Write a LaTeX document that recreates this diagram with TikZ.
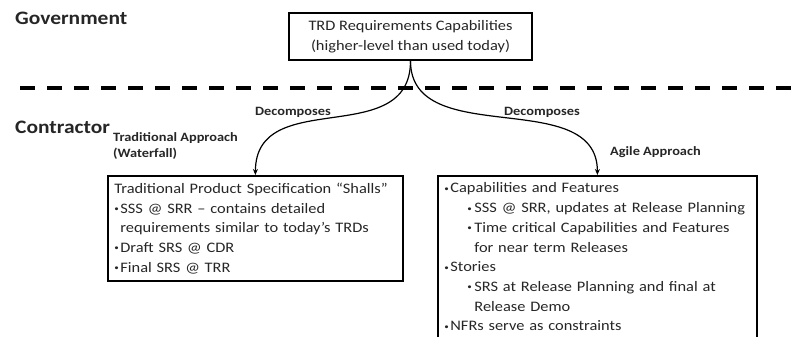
\documentclass[tikz,border=0pt]{standalone}
\usepackage{fontspec}
\setmainfont{Carlito}[FakeStretch=1.13]
\usetikzlibrary{arrows.meta}
\newcommand{\bdot}{\raisebox{1.6pt}{\fontsize{8}{8}\selectfont\textbullet}}
\newcommand{\bul}{\makebox[6pt][l]{\bdot}}
\newcommand{\subbul}{\hspace*{23pt}\makebox[7pt][l]{\bdot}}
\begin{document}
\begin{tikzpicture}[x=1pt,y=-1pt,
    head/.style={font=\fontsize{19}{23}\selectfont\bfseries, text=black!85, anchor=base west, inner sep=0pt},
    lbl/.style={font=\fontsize{12.7}{16}\selectfont\bfseries, text=black!85, inner sep=0pt},
    txt/.style={font=\fontsize{14.5}{19.7}\selectfont, text=black!85},
    box/.style={draw, line width=1.8pt, txt},
    conn/.style={line width=1.2pt, -{Stealth[length=6pt,width=5pt]}}]
  \clip (0,0) rectangle (792,337);

  % levels
  \node[head] (gov) at (15,25) {Government};
  \node[head] (con) at (15,133) {Contractor};
  \draw[line width=4pt, dash pattern=on 15pt off 12pt] (20,88) -- (792,88);

  % boxes
  \node[box, align=center, minimum width=243pt, minimum height=47pt, inner sep=0pt] (trd) at (410.5,36.5)
    {TRD Requirements Capabilities\\(higher-level than used today)};
  \node[box, anchor=north west, text width=282pt, inner xsep=6.5pt, inner ysep=7pt, align=left] (trad) at (107,175)
    {Traditional Product Specification “Shalls”\\
     \bul SSS @ SRR – contains detailed\\
     \hspace*{6pt}requirements similar to today’s TRDs\\
     \bul Draft SRS @ CDR\\
     \bul Final SRS @ TRR};
  \node[box, anchor=north west, text width=306pt, inner xsep=6.5pt, inner ysep=7pt, align=left] (agile) at (437,175)
    {\bul Capabilities and Features\\
     \subbul SSS @ SRR, updates at Release Planning\\
     \subbul Time critical Capabilities and Features\\
     \hspace*{30pt}for near term Releases\\
     \bul Stories\\
     \subbul SRS at Release Planning and final at\\
     \hspace*{30pt}Release Demo\\
     \bul NFRs serve as constraints\\
     \strut};

  % connectors
  \draw[conn] (trd.south) .. controls +(0,90) and +(0,-90) .. (trad.north);
  \draw[conn] (trd.south) .. controls +(0,90) and +(0,-90) .. (agile.north);

  % labels
  \node[lbl] (decl) at (293,112) {Decomposes};
  \node[lbl] (decr) at (542,112) {Decomposes};
  \node[lbl, anchor=base west] (tradlbl) at (113,141) {Traditional Approach};
  \node[lbl, anchor=base west] (wfall) at (113,157) {(Waterfall)};
  \node[lbl, anchor=base west] (agilelbl) at (610,155) {Agile Approach};
\end{tikzpicture}
\end{document}
